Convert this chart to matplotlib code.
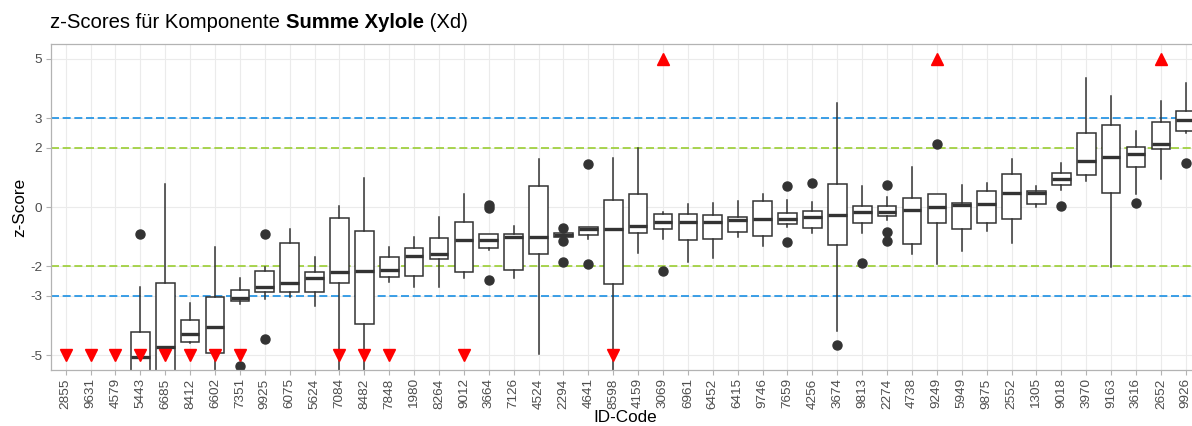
import matplotlib
matplotlib.use("Agg")
import matplotlib.pyplot as plt

plt.rcParams['font.family'] = ['Liberation Sans', 'DejaVu Sans']

# ID codes in plot order
ids = ['2855', '9631', '4579', '5443', '6685', '8412', '6602', '7351', '9925', '6075',
       '5624', '7084', '8482', '7848', '1980', '8264', '9012', '3664', '7126', '4524',
       '2294', '4641', '8598', '4159', '3069', '6961', '6452', '6415', '9746', '7659',
       '4256', '3674', '9813', '2274', '4738', '9249', '5949', '9875', '2552', '1305',
       '9018', '3970', '9163', '3616', '2652', '9926']

# box statistics (None = no box drawn, values < -5.5 are off-panel)
whislo = [None, None, None, -7.0, -7.0, -4.60, -6.0, -3.28, -3.12, -3.03,
          -3.34, -6.0, -6.0, -2.52, -2.69, -2.69, -2.41, -1.45, -2.41, -4.97,
          -1.02, -1.09, -6.0, -1.54, -1.07, -1.85, -1.71, -1.02, -1.31, -0.66,
          -0.87, -4.18, -0.89, -0.44, -1.59, -1.93, -1.49, -0.81, -1.23, 0.01,
          0.57, 0.89, -2.02, 0.43, 0.93, 2.51]
q1 = [None, None, None, -6.0, -6.0, -4.56, -4.94, -3.16, -2.88, -2.88,
      -2.88, -2.55, -3.96, -2.35, -2.33, -1.76, -2.18, -1.40, -2.13, -1.59,
      -1.02, -0.95, -2.59, -0.87, -0.75, -1.11, -1.09, -0.84, -0.98, -0.57,
      -0.72, -1.28, -0.55, -0.30, -1.25, -0.55, -0.74, -0.53, -0.41, 0.10,
      0.74, 1.08, 0.48, 1.36, 1.95, 2.58]
med = [None, None, None, -5.06, -4.73, -4.27, -4.04, -3.06, -2.69, -2.55,
       -2.39, -2.21, -2.16, -2.11, -1.66, -1.57, -1.11, -1.11, -1.02, -1.00,
       -0.96, -0.74, -0.74, -0.64, -0.51, -0.51, -0.50, -0.44, -0.41, -0.39,
       -0.33, -0.27, -0.17, -0.17, -0.10, -0.01, 0.07, 0.10, 0.46, 0.47,
       0.96, 1.55, 1.70, 1.78, 2.12, 2.92]
q3 = [None, None, None, -4.23, -2.55, -3.80, -3.03, -2.80, -2.16, -1.20,
      -2.21, -0.38, -0.81, -1.70, -1.40, -1.06, -0.52, -0.92, -0.91, 0.72,
      -0.89, -0.69, 0.23, 0.43, -0.25, -0.24, -0.28, -0.33, 0.20, -0.20,
      -0.12, 0.77, 0.03, 0.03, 0.32, 0.44, 0.12, 0.55, 1.11, 0.54,
      1.16, 2.51, 2.76, 2.04, 2.88, 3.24]
whishi = [None, None, None, -2.69, 0.78, -3.25, -1.35, -2.39, -2.02, -0.75,
          -1.68, 0.05, 0.99, -1.34, -1.02, -0.35, 0.43, -0.90, -0.64, 1.62,
          -0.89, -0.69, 1.67, 1.98, -0.18, 0.09, 0.12, 0.19, 0.43, 0.24,
          0.18, 3.50, 0.71, 0.35, 1.36, 0.44, 0.74, 0.80, 1.62, 0.72,
          1.48, 4.35, 3.73, 2.55, 3.56, 4.17]
outliers = {
    '5443': [-0.92], '7351': [-5.37], '9925': [-0.92, -4.46],
    '3664': [0.07, -0.05, -2.47], '2294': [-0.70, -1.15, -1.85],
    '4641': [1.46, -1.93], '3069': [-2.16], '7659': [0.72, -1.19],
    '4256': [0.80], '3674': [-4.67], '9813': [-1.88], '2274': [0.73, -0.86, -1.14],
    '9249': [2.14], '9018': [0.05], '3616': [0.12], '9926': [1.50],
}

# labs whose z-scores fall outside +-5
below_limit = ['2855', '9631', '4579', '5443', '6685', '8412', '6602', '7351',
               '7084', '8482', '7848', '9012', '8598']
above_limit = ['3069', '9249', '2652']

y_ticks = [5, 3, 2, 0, -2, -3, -5]

fig = plt.figure(figsize=(11.92, 4.26), dpi=100)
# panel runs past the right edge of the image, as in the reference
ax = fig.add_axes([50.7 / 1192, 56 / 426, 1150 / 1192, 326 / 426])

pos = {c: i + 1 for i, c in enumerate(ids)}

stats = []
positions = []
for i, c in enumerate(ids):
    if med[i] is None:
        continue
    stats.append(dict(whislo=whislo[i], q1=q1[i], med=med[i], q3=q3[i],
                      whishi=whishi[i], fliers=outliers.get(c, []), label=c))
    positions.append(i + 1)

for y, col in [(3, '#1A8FE3'), (-3, '#1A8FE3'), (2, '#9ACD32'), (-2, '#9ACD32')]:
    ax.axhline(y, color=col, lw=1.2, dashes=(4.8, 2.2), zorder=1)

ax.bxp(stats, positions=positions, widths=0.75, patch_artist=True,
       showcaps=False, manage_ticks=False,
       boxprops=dict(facecolor='white', edgecolor='#333333', linewidth=1.1),
       whiskerprops=dict(color='#333333', linewidth=1.1),
       medianprops=dict(color='#333333', linewidth=2.4),
       flierprops=dict(marker='o', markerfacecolor='#333333', markeredgecolor='#333333',
                       markersize=6.5),
       zorder=2)

ax.plot([pos[c] for c in below_limit], [-5] * len(below_limit), 'v',
        color='red', markersize=9, zorder=4, clip_on=False)
ax.plot([pos[c] for c in above_limit], [5] * len(above_limit), '^',
        color='red', markersize=9, zorder=4, clip_on=False)

ax.set_xlim(0.4, 46.6)
ax.set_ylim(-5.5, 5.5)
ax.set_xticks(range(1, len(ids) + 1))
ax.set_xticklabels(ids, rotation=90)
ax.set_yticks(y_ticks)
ax.set_yticklabels([str(v) for v in y_ticks])
ax.tick_params(colors='#B3B3B3', labelcolor='#4D4D4D', labelsize=9.7, length=3.5,
               width=0.8, pad=2.5)
ax.grid(True, color='#EBEBEB', linewidth=0.8)
ax.set_axisbelow(True)
for s in ax.spines.values():
    s.set_color('#B3B3B3')
    s.set_linewidth(0.9)

ax.set_xlabel('ID-Code', fontsize=12.3, labelpad=1)
ax.set_ylabel('z-Score', fontsize=12.3, labelpad=2.5)

# title with bold component name
t1 = fig.text(50 / 1192, 1 - 22 / 426, 'z-Scores für Komponente ', fontsize=14.6,
              va='center', ha='left')
t2 = ax.annotate('Summe Xylole', xy=(1, 0), xycoords=t1, va='bottom', ha='left',
                 fontsize=14.6, fontweight='bold', annotation_clip=False)
ax.annotate(' (Xd)', xy=(1, 0), xycoords=t2, va='bottom', ha='left', fontsize=14.6,
            annotation_clip=False)

fig.savefig('out.png', dpi=100)
